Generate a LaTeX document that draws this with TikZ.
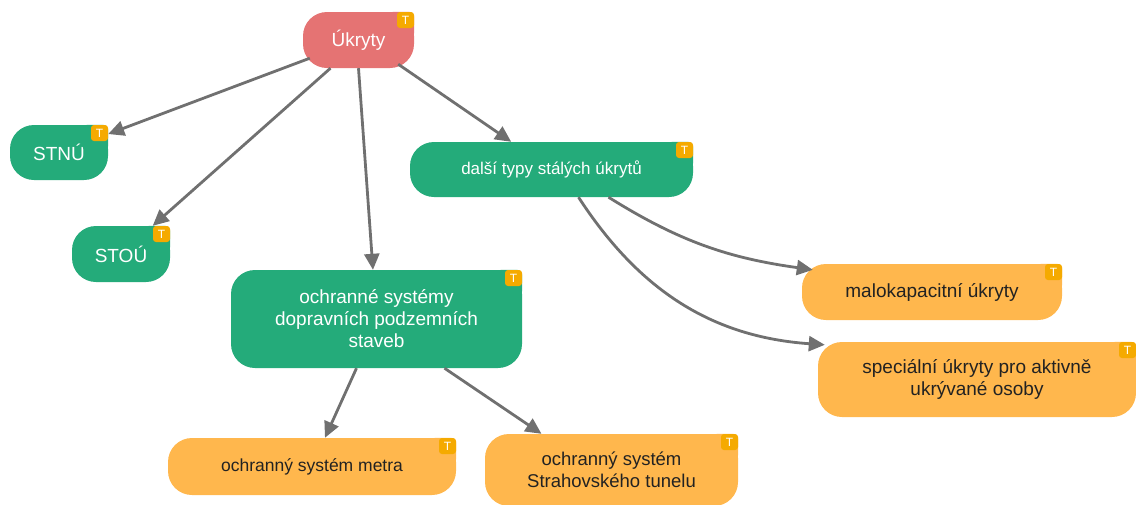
\documentclass[tikz,border=0pt]{standalone}
\usepackage{fontspec}
\setmainfont{Liberation Sans}
\usetikzlibrary{arrows.meta}

\definecolor{rootred}{RGB}{229,115,115}
\definecolor{mapgreen}{RGB}{36,171,122}
\definecolor{maporange}{RGB}{255,183,77}
\definecolor{badgeamber}{RGB}{245,170,0}
\definecolor{linkgray}{RGB}{112,112,112}
\definecolor{textdark}{RGB}{34,34,34}

\tikzset{
  topic/.style={rounded corners=24pt, inner sep=0pt, align=center, font=\fontsize{19}{22}\selectfont},
  root/.style={topic, fill=rootred, text=white},
  branch/.style={topic, fill=mapgreen, text=white},
  leaf/.style={topic, fill=maporange, text=textdark},
  link/.style={draw=linkgray, line width=2.8pt, -{Triangle[length=16pt,width=15pt]}},
  tbadge/.style={fill=badgeamber, text=white, rounded corners=3pt, minimum width=17pt, minimum height=16pt,
    inner sep=0pt, anchor=north east, font=\fontsize{12}{12}\selectfont},
}

% square-ish top right corner with the T badge on it
\newcommand\cornertag[2]{%
  \fill[#2, rounded corners=5pt] ([xshift=-26pt]#1.north east) rectangle ([yshift=-26pt]#1.north east);
  \node[tbadge] (#1-t) at (#1.north east) {T};
}

\begin{document}
\begin{tikzpicture}[x=1pt, y=1pt]
  \useasboundingbox (0,0) rectangle (1136,-504);

  \node[root, minimum width=111pt, minimum height=56pt] (ukryty) at (358.5,-40) {Úkryty};
  \node[branch, minimum width=98pt, minimum height=55pt] (stnu) at (59,-152.5) {STNÚ};
  \node[branch, minimum width=98pt, minimum height=56pt] (stou) at (121,-254) {STOÚ};
  \node[branch, minimum width=283pt, minimum height=55pt, font=\fontsize{17}{20}\selectfont] (dalsi) at (551.5,-169.5) {další typy stálých úkrytů};
  \node[branch, minimum width=291pt, minimum height=98pt] (ochranne) at (376.5,-319) {ochranné systémy\\dopravních podzemních\\staveb};
  \node[leaf, minimum width=260pt, minimum height=56pt] (malokap) at (932,-292) {malokapacitní úkryty};
  \node[leaf, minimum width=318pt, minimum height=75pt] (specialni) at (977,-379.5) {speciální úkryty pro aktivně\\ukrývané osoby};
  \node[leaf, minimum width=288pt, minimum height=57pt, font=\fontsize{17.5}{21}\selectfont] (metro) at (312,-466.5) {ochranný systém metra};
  \node[leaf, minimum width=253pt, minimum height=72pt, font=\fontsize{18.5}{21.5}\selectfont] (strahov) at (611.5,-470) {ochranný systém\\Strahovského tunelu};

  \cornertag{ukryty}{rootred}
  \cornertag{stnu}{mapgreen}
  \cornertag{stou}{mapgreen}
  \cornertag{dalsi}{mapgreen}
  \cornertag{ochranne}{mapgreen}
  \cornertag{malokap}{maporange}
  \cornertag{specialni}{maporange}
  \cornertag{metro}{maporange}
  \cornertag{strahov}{maporange}

  \draw[link] ([shift={(7pt,10pt)}]ukryty.south west) -- (stnu);
  \draw[link] ([xshift=-28pt]ukryty.south) -- (stou);
  \draw[link] (ukryty.south) -- (ochranne);
  \draw[link] ([shift={(-16pt,4pt)}]ukryty.south east) -- (dalsi);
  \draw[link] ([xshift=57pt]dalsi.south) to[out=-32, in=172] ([shift={(11pt,-6pt)}]malokap.north west);
  \draw[link] ([xshift=27pt]dalsi.south) to[out=-57, in=176] ([shift={(7pt,-3pt)}]specialni.north west);
  \draw[link] ([xshift=-20pt]ochranne.south) -- (metro);
  \draw[link] ([xshift=68pt]ochranne.south) -- ([xshift=-70pt]strahov.north);
\end{tikzpicture}
\end{document}
